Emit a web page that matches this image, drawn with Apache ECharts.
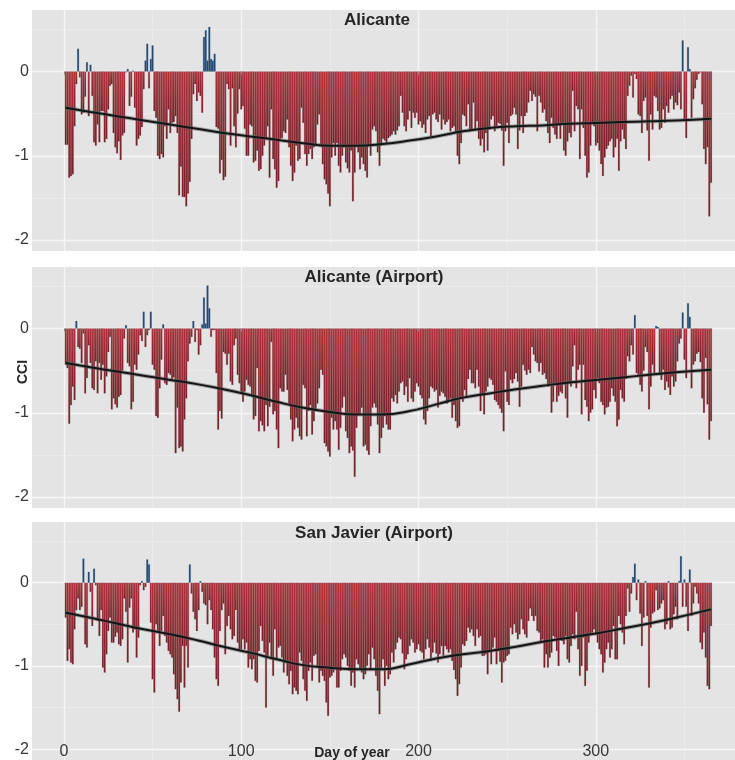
<!DOCTYPE html>
<html>
<head>
<meta charset="utf-8">
<script src="https://cdn.jsdelivr.net/npm/echarts@6/dist/echarts.min.js"></script>
<style>html,body{margin:0;padding:0;background:#fff}#c{width:735px;height:760px}</style>
</head>
<body>
<div id="c"></div>
<script>
const panelTitles = ["Alicante", "Alicante (Airport)", "San Javier (Airport)"];
const xTicks = [0, 100, 200, 300];
const yTicks = [0, -1, -2];
const xMajor = [0, 100, 200, 300];
const xMinor = [50, 150, 250, 350];
const yMajor = [0, -1, -2];
const yMinor = [0.5, -0.5, -1.5];

const cciAlicante = [
-0.87,-0.87,-1.26,-1.24,-1.22,-0.65,-0.15,0.27,-0.07,-0.51,
-0.49,-0.30,0.11,-0.53,0.08,-0.29,-0.84,-0.88,-0.63,-0.84,
-0.47,-0.47,-0.84,-0.80,-0.45,-0.17,-0.15,-0.73,-0.90,-0.97,
-0.83,-1.05,-0.76,-0.73,-0.01,0.03,-0.41,-0.30,0.01,-0.43,
-0.88,-0.80,-0.76,-0.66,-0.21,0.13,0.33,-0.20,0.15,0.31,
-0.47,-0.55,-1.00,-1.04,-0.98,-1.02,-0.65,-0.80,-0.45,-0.73,
-0.61,-0.60,-0.53,-0.73,-1.47,-1.13,-1.49,-1.49,-1.60,-1.45,
-1.31,-0.80,-0.27,-0.15,-0.35,-0.25,-0.29,-0.49,0.41,0.49,
0.13,0.53,0.15,0.13,0.21,-0.66,-0.68,-1.21,-1.05,-1.29,
-1.25,-0.15,-0.21,-0.88,-0.20,-0.65,-0.90,-0.50,-0.21,-0.45,
-0.41,-0.68,-1.00,-1.00,
-0.63,-0.65,-1.08,-1.06,-0.94,-1.18,-1.16,-1.00,-0.88,-0.80,
-0.65,-1.26,-0.45,-1.04,-1.16,-1.38,-1.30,-0.80,-0.79,-0.71,
-0.73,-0.57,-0.90,-1.12,-1.30,-1.20,-0.88,-1.06,-1.04,-0.43,
-0.61,-0.98,-1.12,-0.98,-0.92,-1.04,-0.90,-0.88,-0.63,-0.51,
-0.88,-1.10,-1.28,-1.34,-1.45,-1.60,-1.02,-0.85,-1.00,-0.85,
-1.12,-1.20,-1.00,-0.90,-1.08,-1.15,-1.20,-0.94,-1.54,-1.20,
-0.88,-0.96,-1.16,-1.02,-1.10,-1.18,-1.26,-0.88,-1.00,-0.69,
-0.65,-0.71,-0.96,-1.12,-0.88,-0.80,-0.82,-0.85,-0.79,-0.77,
-0.75,-0.71,-0.75,-0.70,-0.65,-0.29,-0.49,-0.65,-0.71,-0.57,
-0.47,-0.67,-0.49,-0.55,-0.49,-0.63,-0.59,-0.67,-0.63,-0.73,
-0.57,-0.53,-0.77,-0.51,-0.49,-0.57,-0.60,-0.51,-0.69,-0.57,
-0.63,-0.60,-0.57,-0.71,-0.67,-0.65,-0.73,-1.00,-1.10,-0.85,
-0.51,-0.53,-0.65,-0.39,-0.71,-0.69,-0.37,-0.69,-0.59,-0.80,
-0.88,
-0.80,-0.96,-0.73,-0.94,-0.69,-0.57,-0.53,-0.71,-0.65,-0.61,
-0.62,-0.70,-1.12,-0.71,-0.61,-0.85,-0.53,-0.51,-0.43,-0.51,
-0.92,-0.70,-0.53,-0.73,-0.53,-0.49,-0.37,-0.23,-0.35,-0.27,
-0.30,-0.71,-0.29,-0.37,-0.49,-0.45,-0.59,-0.73,-0.85,-0.55,
-0.67,-0.75,-0.80,-0.63,-0.80,-0.63,-0.94,-1.00,-0.83,-0.73,
-0.78,-0.23,-0.71,-0.41,-0.45,-1.04,-0.45,-0.67,-1.00,-1.26,
-1.20,-0.88,-0.61,-0.65,-0.88,-0.85,-0.94,-1.10,-1.24,-1.02,
-0.92,-0.88,-0.83,-0.80,-1.02,-0.90,-0.80,-1.18,-0.83,-0.69,
-0.80,-0.92,-0.29,-0.17,-0.05,-0.31,-0.03,-0.09,-0.51,-0.53,
-0.73,-0.35,-0.31,-0.70,-1.06,-0.51,-0.69,-0.29,-0.31,-0.47,
-0.69,-0.67,-0.45,-0.61,-0.41,-0.49,-0.33,-0.29,-0.45,-0.37,
-0.40,-0.25,-0.45,0.37,-0.57,-0.79,0.29,0.03,-0.55,-0.33,
-0.20,-0.10,-0.03,-0.01,-0.39,-0.92,-1.10,-0.90,-1.72,-1.32
];

const cciAlicanteAirport = [
-0.43,-0.47,-1.13,-0.91,-0.69,-0.85,0.09,-0.22,-0.24,-0.41,
-0.06,-0.77,-0.59,-0.20,-0.41,-0.71,-0.73,-0.39,-0.77,-0.41,
-0.61,-0.43,-0.77,-0.57,-0.28,-0.10,-0.96,-0.83,-0.90,-0.94,
-0.81,-0.79,-0.50,-0.12,0.04,-0.41,-0.45,-0.96,-0.87,-0.43,
-0.49,-0.31,-0.08,-0.15,0.20,-0.22,-0.08,-0.02,0.20,-0.43,
-0.49,-1.04,-1.06,-0.71,-0.37,0.05,-0.65,-0.67,-0.53,-0.55,
-0.61,-0.58,-1.48,-0.94,-1.42,-1.40,-1.46,-1.08,-0.83,-0.39,
-0.18,-0.10,0.09,-0.16,-0.02,-0.31,-0.20,0.05,0.37,0.06,
0.51,0.24,-0.10,-0.02,-0.02,-0.53,-1.20,-0.98,-1.07,-0.28,
-0.30,-0.43,-0.30,-0.63,-0.67,-0.20,-0.12,-0.55,-0.65,-0.75,
-0.87,-0.75,-0.61,-0.67,
-0.69,-0.81,-1.08,-1.04,-0.47,-1.22,-1.10,-1.15,-1.22,-0.91,
-1.16,-0.93,-0.16,-1.02,-0.98,-1.20,-1.42,-0.71,-0.75,-0.75,
-0.55,-0.73,-0.90,-1.08,-1.34,-1.20,-1.06,-1.18,-1.28,-1.32,
-0.67,-0.71,-1.28,-0.98,-0.91,-1.26,-1.10,-0.98,-0.89,-0.71,
-0.49,-0.55,-1.36,-1.40,-1.46,-1.52,-1.06,-1.20,-1.10,-1.20,
-1.44,-1.18,-0.94,-0.81,-1.22,-1.30,-1.48,-1.40,-1.45,-1.76,
-1.18,-1.02,-1.02,-0.94,-1.40,-1.38,-1.45,-1.50,-1.16,-0.94,
-0.89,-0.94,-1.14,-1.48,-1.30,-1.18,-1.04,-1.14,-1.20,-1.20,
-0.83,-0.87,-0.79,-0.89,-0.75,-0.65,-0.63,-0.79,-0.69,-0.87,
-0.59,-0.83,-0.87,-0.75,-0.65,-0.69,-0.79,-0.83,-1.08,-1.14,
-0.98,-0.83,-0.69,-0.71,-0.75,-0.73,-0.94,-0.80,-0.75,-0.77,
-0.81,-0.89,-0.87,-0.83,-1.06,-0.91,-1.10,-1.18,-1.16,-0.83,
-0.87,-0.73,-0.81,-0.60,-0.49,-0.65,-0.65,-0.71,-0.49,-0.69,
-0.98,-0.79,
-1.02,-0.75,-0.69,-0.59,-0.61,-0.67,-0.85,-0.87,-0.91,-0.95,
-1.00,-1.22,-0.51,-0.87,-0.91,-0.61,-0.65,-0.60,-0.53,-0.63,
-0.93,-0.69,-0.43,-0.50,-0.55,-0.49,-0.53,-0.22,-0.31,-0.39,
-0.41,-0.51,-0.41,-0.55,-0.53,-0.60,-0.69,-0.67,-1.00,-0.87,
-0.65,-0.87,-0.80,-0.75,-0.77,-0.65,-0.83,-1.06,-0.65,-0.69,
-0.45,-0.20,-0.71,-0.49,-0.43,-1.02,-0.43,-0.85,-0.93,-1.10,
-1.00,-0.96,-0.73,-0.83,-0.59,-0.65,-0.87,-0.91,-1.02,-0.94,
-0.93,-0.87,-0.71,-0.80,-0.87,-1.16,-1.08,-0.73,-0.83,-0.87,
-0.60,-0.33,-0.39,-0.20,-0.31,0.16,-0.53,-0.55,-0.67,-0.75,
-0.50,-0.22,-0.28,-0.96,-0.69,-0.43,-0.53,0.03,0.02,-0.53,
-0.61,-0.49,-0.73,-0.63,-0.70,-0.79,-0.57,-0.69,-0.63,-0.39,
-0.18,-0.12,0.19,-0.37,-0.59,0.30,0.14,-0.71,-0.43,-0.39,
-0.30,-0.28,-0.40,-0.83,-1.00,-0.35,-0.90,-1.32,-1.10
];

const cciSanJavier = [
-0.42,-0.94,-0.80,-0.96,-0.98,-0.56,-0.33,-0.19,-0.33,-0.29,
0.29,-0.74,-0.78,0.13,-0.11,-0.52,0.17,-0.03,-0.46,-0.64,
-0.33,-1.02,-1.08,-0.86,-0.58,-0.42,-0.72,-0.72,-0.65,-0.60,
-0.74,-0.76,-0.68,-0.19,-0.35,-0.96,-0.30,-0.19,-0.60,-0.56,
-0.90,-0.66,-0.03,0.02,-0.09,-0.05,0.28,0.22,-0.48,-1.16,
-1.32,-0.50,-0.58,-0.76,-0.58,-0.40,-0.64,-0.72,-0.82,-0.86,
-0.90,-1.10,-1.28,-1.40,-1.55,-1.20,-0.76,-1.26,-0.76,-1.02,
0.22,-0.13,-0.35,-0.44,-0.58,-0.33,0.02,-0.11,-0.25,-0.27,
-0.50,-0.21,-0.33,-0.56,-0.90,-1.16,-1.24,-0.58,-0.33,-0.25,
-0.86,-0.52,-0.40,-0.56,-0.68,-0.64,-0.33,-0.72,-0.82,-0.80,
-0.68,-0.80,-0.72,-1.02,
-0.92,-1.04,-0.92,-1.18,-1.20,-0.82,-0.52,-0.70,-0.84,-1.50,
-0.88,-0.72,-0.90,-1.12,-0.56,-0.92,-0.78,-0.76,-0.90,-1.08,
-0.96,-1.12,-1.22,-1.06,-1.34,-1.26,-1.30,-1.34,-0.84,-0.94,
-1.16,-1.30,-1.42,-1.06,-0.96,-1.18,-0.88,-0.86,-1.00,-1.20,
-1.06,-1.12,-1.18,-1.44,-1.60,-1.14,-1.12,-1.08,-1.04,-1.26,
-1.26,-1.06,-0.92,-0.86,-0.90,-1.00,-1.06,-1.24,-1.08,-1.26,
-0.92,-0.98,-1.04,-1.08,-1.16,-1.10,-1.00,-0.86,-1.04,-0.78,
-0.92,-1.12,-1.30,-1.58,-1.04,-0.92,-1.24,-1.00,-1.16,-1.10,
-0.84,-0.96,-0.80,-0.72,-0.66,-0.68,-0.85,-1.04,-0.92,-0.86,
-0.76,-0.68,-0.72,-0.84,-0.80,-0.74,-0.82,-0.84,-0.92,-0.80,
-0.68,-0.78,-0.94,-0.84,-0.72,-0.85,-0.96,-0.86,-0.76,-0.88,
-0.76,-0.80,-0.84,-0.80,-0.94,-1.05,-1.16,-1.36,-1.22,-1.02,
-0.74,-0.76,-0.70,-0.54,-0.60,-0.56,-0.64,-0.76,-0.56,-0.66,
-0.64,-0.88,
-0.88,-0.86,-1.10,-0.82,-0.98,-0.78,-0.66,-0.98,-0.82,-0.95,
-1.20,-0.96,-0.94,-0.88,-0.86,-0.54,-0.62,-0.50,-0.60,-0.68,
-0.62,-0.44,-0.56,-0.62,-0.66,-0.46,-0.31,-0.40,-0.46,-0.40,
-0.58,-0.60,-0.70,-0.68,-1.02,-0.86,-1.02,-0.90,-0.84,-0.64,
-0.66,-0.82,-1.00,-0.68,-0.70,-0.74,-0.64,-0.92,-0.96,-0.76,
-0.62,-0.68,-0.35,-0.80,-1.12,-1.00,-0.66,-1.24,-1.06,-0.72,
-0.62,-0.60,-0.56,-0.62,-0.72,-0.80,-0.86,-1.08,-0.96,-0.80,
-0.72,-0.90,-0.80,-0.52,-0.92,-0.92,-0.40,-0.50,-0.60,-0.74,
-0.40,-0.07,-0.35,-0.13,0.07,0.23,-0.21,0.04,-0.37,-0.76,
-0.42,0.02,-0.40,-1.26,-0.54,-0.37,-0.35,-0.09,-0.33,-0.31,
-0.25,-0.21,-0.56,-0.50,0.02,-0.56,-0.54,-0.38,-0.29,-0.44,
0.02,0.32,-0.29,0.04,-0.29,-0.58,0.16,-0.40,-0.25,-0.05,
-0.13,-0.25,-0.72,-0.80,-0.60,-0.90,-1.24,-1.28,-0.52
];

const smoothDays = [1,15,30,45,60,75,90,105,120,135,150,165,180,195,210,225,240,255,270,285,300,315,330,345,365];
const smoothAlicante = [-0.43,-0.48,-0.53,-0.58,-0.63,-0.68,-0.73,-0.77,-0.81,-0.85,-0.88,-0.88,-0.86,-0.82,-0.77,-0.71,-0.67,-0.65,-0.64,-0.62,-0.61,-0.60,-0.59,-0.58,-0.56];
const smoothAlicanteAirport = [-0.41,-0.46,-0.51,-0.56,-0.61,-0.66,-0.72,-0.79,-0.87,-0.94,-0.99,-1.02,-1.02,-0.98,-0.90,-0.82,-0.77,-0.72,-0.68,-0.64,-0.61,-0.58,-0.55,-0.52,-0.49];
const smoothSanJavier = [-0.36,-0.42,-0.49,-0.56,-0.62,-0.69,-0.77,-0.84,-0.92,-0.99,-1.02,-1.04,-1.04,-0.98,-0.91,-0.86,-0.82,-0.77,-0.71,-0.66,-0.61,-0.55,-0.49,-0.42,-0.32];

const panelValues = [cciAlicante, cciAlicanteAirport, cciSanJavier];
const panelSmooth = [smoothAlicante, smoothAlicanteAirport, smoothSanJavier];

const FONT = '"Liberation Sans", Arial, Helvetica, sans-serif';
const gridTops = [10, 267, 522];
const titleY = [20, 277, 533];
const titleX = [377, 374, 374];

const chart = echarts.init(document.getElementById('c'), null, {renderer: 'canvas'});

const redGrad = new echarts.graphic.LinearGradient(0, 0, 0, 1, [
  {offset: 0, color: '#bd2a31'},
  {offset: 1, color: '#7a1a1f'}
]);

const grid = [], xAxis = [], yAxis = [], series = [], graphic = [];
for (let i = 0; i < 3; i++) {
  grid.push({left: 32, top: gridTops[i], width: 703, height: 241, show: true,
    backgroundColor: '#e4e4e4', borderWidth: 0, containLabel: false});
  xAxis.push({type: 'value', gridIndex: i, min: -18, max: 378.5, z: 6,
    axisLine: {show: false}, splitLine: {show: false},
    axisTick: {show: i < 2, customValues: xTicks, length: 3, lineStyle: {color: '#8c8c8c', width: 1}},
    axisLabel: {show: i === 2, customValues: xTicks, inside: true, margin: 0,
      fontSize: 16, color: '#383838', fontFamily: FONT}});
  yAxis.push({type: 'value', gridIndex: i, min: -2.13, max: 0.73,
    axisLine: {show: false}, splitLine: {show: false}, axisTick: {show: false},
    axisLabel: {customValues: yTicks, margin: 3, fontSize: 16, color: '#383838', fontFamily: FONT}});

  const lines = [];
  xMajor.forEach(v => lines.push({xAxis: v, lineStyle: {color: '#f6f6f6', width: 1.3, type: 'solid'}}));
  xMinor.forEach(v => lines.push({xAxis: v, lineStyle: {color: '#eeeeee', width: 0.7, type: 'solid'}}));
  yMajor.forEach(v => lines.push({yAxis: v, lineStyle: {color: '#f6f6f6', width: 1.3, type: 'solid'}}));
  yMinor.forEach(v => lines.push({yAxis: v, lineStyle: {color: '#eeeeee', width: 0.7, type: 'solid'}}));
  series.push({type: 'line', xAxisIndex: i, yAxisIndex: i, data: [], z: 0, silent: true,
    markLine: {silent: true, z: 0, symbol: ['none', 'none'], label: {show: false}, animation: false, data: lines}});

  const vals = panelValues[i];
  series.push({type: 'bar', xAxisIndex: i, yAxisIndex: i, z: 2, barWidth: 1.9, animation: false, silent: true,
    data: vals.map((v, k) => ({value: [k + 1, v],
      itemStyle: {color: v >= 0 ? '#1c4877' : redGrad}})),
    itemStyle: {borderColor: '#6a7280', borderWidth: 0.22}});

  const sm = panelSmooth[i].map((v, k) => [smoothDays[k], v]);
  series.push({type: 'line', xAxisIndex: i, yAxisIndex: i, z: 3, data: sm, smooth: 0.5,
    symbol: 'none', silent: true, animation: false,
    lineStyle: {color: 'rgba(95,95,95,0.5)', width: 4}});
  series.push({type: 'line', xAxisIndex: i, yAxisIndex: i, z: 4, data: sm, smooth: 0.5,
    symbol: 'none', silent: true, animation: false,
    lineStyle: {color: '#141414', width: 2}});

  graphic.push({type: 'text', x: titleX[i], y: titleY[i], z: 10,
    style: {text: panelTitles[i], fontSize: 17, fontWeight: 'bold', fill: '#262626',
      fontFamily: FONT, textAlign: 'center', textVerticalAlign: 'middle'}});
}
graphic.push({type: 'text', x: 23, y: 372, rotation: Math.PI / 2, z: 10,
  style: {text: 'CCI', fontSize: 14, fontWeight: 'bold', fill: '#262626', fontFamily: FONT,
    textAlign: 'center', textVerticalAlign: 'middle'}});
graphic.push({type: 'text', x: 352, y: 753, z: 10,
  style: {text: 'Day of year', fontSize: 14, fontWeight: 'bold', fill: '#262626', fontFamily: FONT,
    textAlign: 'center', textVerticalAlign: 'middle'}});

chart.setOption({animation: false, backgroundColor: '#ffffff', grid, xAxis, yAxis, series, graphic});
</script>
</body>
</html>
